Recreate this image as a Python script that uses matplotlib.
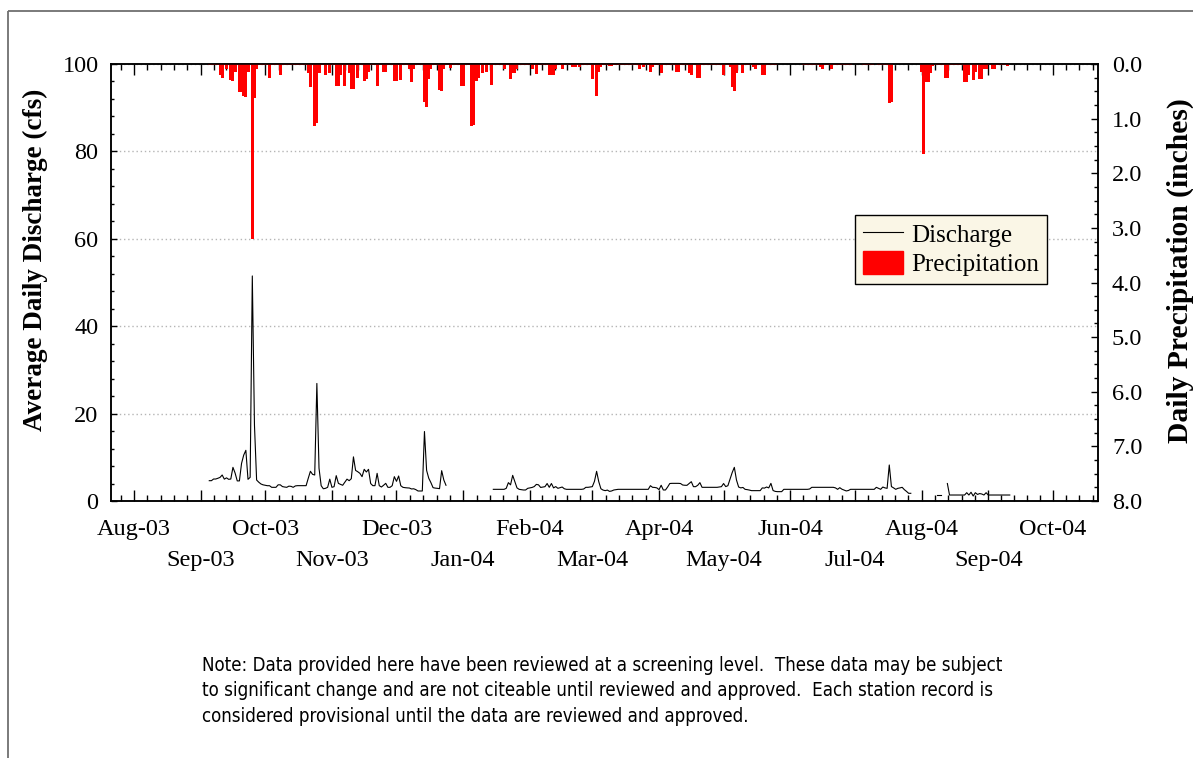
import matplotlib.dates as mdates
import matplotlib.pyplot as plt
import pandas as pd
from matplotlib.lines import Line2D
from matplotlib.patches import Patch
from matplotlib.ticker import FixedLocator, FormatStrFormatter, MultipleLocator
from matplotlib.transforms import offset_copy

plt.rcParams["font.family"] = ["Liberation Serif", "DejaVu Serif"]

# Average daily discharge (cfs), runs of consecutive days
discharge_fall_start = "2003-09-05"
discharge_fall = [
    4.65, 4.65, 5.03, 5.03, 5.2, 5.4, 5.95, 5.0, 5.3, 4.96,
    5.03, 7.7, 6.4, 4.6, 4.6, 8.6, 10.5, 11.6, 4.96, 5.42,
    51.5, 17.4, 4.8, 4.3, 3.9, 3.7, 3.6, 3.5, 3.5, 3.13,
    3.13, 3.13, 3.7, 3.7, 3.3, 3.2, 3.13, 3.4, 3.35, 3.13,
    3.45, 3.51, 3.51, 3.51, 3.51, 3.51, 5.2, 6.8, 6.1, 5.95,
    26.9, 7.5, 3.5, 2.8, 2.9, 3.13, 5.0, 3.13, 3.28, 5.8,
    4.04, 3.8, 3.6, 4.3, 5.0, 4.65, 5.1, 10.1, 7.0, 6.7,
    6.33, 5.57, 7.25, 6.64, 7.25, 4.0, 3.51, 3.51, 6.33, 3.51,
    3.2, 3.6, 4.04, 3.13, 3.13, 3.5, 5.57, 4.5, 5.72, 3.5,
    3.13, 3.05, 3.0, 2.97, 2.75, 2.8, 2.6, 2.29, 2.29, 2.29,
    15.9, 7.0, 5.2, 4.2, 3.05, 2.95, 2.9, 2.82, 6.94, 4.8,
    3.6,
]
discharge_spring_start = "2004-01-15"
discharge_spring = [
    2.67, 2.67, 2.67, 2.67, 2.67, 2.67, 2.9, 4.2, 3.7, 5.87,
    4.4, 3.0, 2.67, 2.6, 2.52, 2.52, 2.9, 3.0, 3.1, 3.3,
    3.8, 3.7, 3.1, 3.2, 3.28, 4.0, 3.13, 4.0, 3.0, 3.3,
    2.9, 3.05, 3.2, 2.8, 2.67, 2.67, 2.67, 2.67, 2.67, 2.67,
    2.67, 2.67, 2.75, 3.13, 3.13, 3.2, 3.28, 4.5, 6.79, 4.42,
    2.8, 2.5, 2.37, 2.5, 2.2, 2.3, 2.52, 2.6, 2.67, 2.67,
    2.67, 2.67, 2.67, 2.67, 2.67, 2.67, 2.67, 2.67, 2.67, 2.67,
    2.67, 2.67, 2.67, 3.5, 3.13, 3.1, 3.0, 2.6, 3.6, 2.52,
    2.52, 3.2, 4.0, 4.04, 4.04, 4.04, 4.04, 4.0, 3.66, 3.6,
    3.59, 4.0, 4.42, 3.28, 3.28, 3.6, 4.2, 3.13, 3.13, 3.13,
    3.13, 3.13, 3.13, 3.13, 3.13, 3.2, 3.28, 4.0, 3.3, 3.5,
    5.0, 6.5, 7.7, 4.8, 3.2, 3.0, 3.1, 2.67, 2.6, 2.5,
    2.37, 2.37, 2.37, 2.37, 2.37, 3.0, 2.95, 3.2, 3.0, 4.04,
    2.4, 2.2, 2.14, 2.14, 2.14, 2.67, 2.67, 2.67, 2.67, 2.67,
    2.67, 2.67, 2.67, 2.67, 2.67, 2.67, 2.67, 2.75, 3.13, 3.13,
    3.13, 3.13, 3.13, 3.13, 3.13, 3.13, 3.13, 3.13, 3.13, 3.0,
    2.67, 3.05, 2.7, 2.5, 2.3, 2.4, 2.67, 2.67, 2.67, 2.67,
    2.67, 2.67, 2.67, 2.67, 2.67, 2.67, 2.67, 2.67, 3.13, 2.9,
    2.67, 3.2, 3.0, 2.9, 8.24, 3.3, 3.0, 2.67, 2.9, 3.0,
    3.13, 2.6, 2.2, 1.76, 1.76,
]
discharge_aug_start = "2004-08-08"
discharge_aug = [1.37, 1.37, 1.37]
discharge_late_start = "2004-08-13"
discharge_late = [
    4.0, 1.37, 1.37, 1.37, 1.37, 1.37, 1.37, 1.37, 1.37, 1.9,
    1.37, 2.0, 1.14, 1.9, 1.5, 1.7, 1.6, 1.37, 1.9, 1.37,
    1.37, 1.37, 1.37, 1.37, 1.37, 1.37, 1.37, 1.37, 1.37, 1.37,
]

# Daily precipitation (inches)
precip_dates = [
    "2003-09-10", "2003-09-11", "2003-09-13", "2003-09-15", "2003-09-16",
    "2003-09-17", "2003-09-19", "2003-09-20", "2003-09-21", "2003-09-22",
    "2003-09-23", "2003-09-25", "2003-09-26", "2003-09-27", "2003-10-03",
    "2003-10-08", "2003-10-21", "2003-10-22", "2003-10-24", "2003-10-25",
    "2003-10-26", "2003-10-29", "2003-10-31", "2003-11-03", "2003-11-04",
    "2003-11-05", "2003-11-07", "2003-11-09", "2003-11-10", "2003-11-11",
    "2003-11-13", "2003-11-16", "2003-11-17", "2003-11-18", "2003-11-22",
    "2003-11-25", "2003-11-26", "2003-11-30", "2003-12-01", "2003-12-03",
    "2003-12-07", "2003-12-08", "2003-12-09", "2003-12-14", "2003-12-15",
    "2003-12-16", "2003-12-17", "2003-12-21", "2003-12-22", "2003-12-23",
    "2003-12-26", "2003-12-31", "2004-01-01", "2004-01-05", "2004-01-06",
    "2004-01-07", "2004-01-08", "2004-01-10", "2004-01-12", "2004-01-14",
    "2004-01-20", "2004-01-23", "2004-01-24", "2004-01-25", "2004-01-26",
    "2004-02-02", "2004-02-04", "2004-02-10", "2004-02-11", "2004-02-12",
    "2004-02-13", "2004-02-16", "2004-02-21", "2004-02-22", "2004-02-24",
    "2004-03-01", "2004-03-03", "2004-03-04", "2004-03-05", "2004-03-09",
    "2004-03-10", "2004-03-23", "2004-03-25", "2004-03-28", "2004-03-29",
    "2004-04-02", "2004-04-09", "2004-04-10", "2004-04-15", "2004-04-16",
    "2004-04-19", "2004-04-20", "2004-05-01", "2004-05-04", "2004-05-05",
    "2004-05-06", "2004-05-07", "2004-05-10", "2004-05-15", "2004-05-16",
    "2004-05-19", "2004-05-20", "2004-06-15", "2004-06-16", "2004-06-20",
    "2004-07-17", "2004-07-18", "2004-08-01", "2004-08-02", "2004-08-03",
    "2004-08-04", "2004-08-05", "2004-08-06", "2004-08-12", "2004-08-13",
    "2004-08-21", "2004-08-22", "2004-08-23", "2004-08-25", "2004-08-26",
    "2004-08-28", "2004-08-29", "2004-08-30", "2004-08-31", "2004-09-03",
    "2004-09-04", "2004-09-10",
]
precip_inches = [
    0.21, 0.25, 0.10, 0.30, 0.32,
    0.14, 0.52, 0.52, 0.58, 0.60,
    0.14, 3.20, 0.63, 0.10, 0.25,
    0.21, 0.17, 0.43, 1.13, 1.08,
    0.17, 0.21, 0.17, 0.41, 0.41,
    0.21, 0.41, 0.17, 0.46, 0.46,
    0.25, 0.32, 0.28, 0.14, 0.41,
    0.14, 0.14, 0.32, 0.32, 0.30,
    0.10, 0.33, 0.10, 0.70, 0.78,
    0.27, 0.10, 0.48, 0.50, 0.10,
    0.08, 0.40, 0.40, 1.13, 1.12,
    0.32, 0.25, 0.17, 0.14, 0.38,
    0.10, 0.27, 0.17, 0.17, 0.10,
    0.10, 0.18, 0.21, 0.21, 0.21,
    0.10, 0.10, 0.06, 0.06, 0.06,
    0.27, 0.58, 0.14, 0.06, 0.03,
    0.03, 0.10, 0.06, 0.14, 0.06,
    0.17, 0.14, 0.14, 0.17, 0.21,
    0.26, 0.26, 0.21, 0.06, 0.43,
    0.50, 0.17, 0.17, 0.06, 0.10,
    0.21, 0.21, 0.06, 0.10, 0.10,
    0.72, 0.70, 0.14, 1.64, 0.33,
    0.33, 0.17, 0.04, 0.26, 0.26,
    0.33, 0.33, 0.21, 0.30, 0.14,
    0.27, 0.27, 0.10, 0.10, 0.10,
    0.10, 0.03,
]

# Stretches of record with only trace amounts
trace_periods = [
    ("2003-09-05", "2004-05-25"),
    ("2004-06-07", "2004-06-29"),
    ("2004-07-05", "2004-07-09"),
    ("2004-07-12", "2004-07-16"),
    ("2004-08-08", "2004-09-09"),
]
trace_inches = 0.02

note = (
    "Note: Data provided here have been reviewed at a screening level.  These data may be subject\n"
    "to significant change and are not citeable until reviewed and approved.  Each station record is\n"
    "considered provisional until the data are reviewed and approved."
)


def _run(start, values):
    return pd.Series(values, index=pd.date_range(start, periods=len(values), freq="D"))


def _daily_precip():
    trace = pd.concat(
        [pd.Series(trace_inches, index=pd.date_range(a, b, freq="D")) for a, b in trace_periods]
    )
    rain = pd.Series(precip_inches, index=pd.to_datetime(precip_dates))
    trace = trace[~trace.index.isin(rain.index)]
    return pd.concat([trace, rain]).sort_index()


def _minor_month_ticks(first, last):
    ticks = []
    for start in pd.date_range(first, last, freq="MS"):
        end = start + pd.offsets.MonthBegin(1)
        step = (end - start) / 5
        ticks += [mdates.date2num(start + i * step) for i in range(1, 5)]
    return ticks


W, H = 1193, 758
LABEL_PT = 17.5
fig = plt.figure(figsize=(W / 100, H / 100), dpi=100)
ax = fig.add_axes([111 / W, 1 - 501 / H, 987 / W, 437 / H])
ax2 = ax.twinx()

for start, values in [
    (discharge_fall_start, discharge_fall),
    (discharge_spring_start, discharge_spring),
    (discharge_aug_start, discharge_aug),
    (discharge_late_start, discharge_late),
]:
    q = _run(start, values)
    ax.plot(q.index, q.values, color="black", lw=0.8)

precip = _daily_precip()
ax2.bar(precip.index, precip.values, width=1.4, color="red", edgecolor="none")

ax.set_xlim(pd.Timestamp("2003-07-21 08:00"), pd.Timestamp("2004-10-22"))
ax.set_ylim(0, 100)
ax2.set_ylim(8, 0)

# month labels alternate between two rows under the axis
months = pd.date_range("2003-08-01", "2004-10-01", freq="MS")
ax.xaxis.set_major_locator(FixedLocator(mdates.date2num(months)))
ax.set_xticklabels([f"{m:%b-%y}" if i % 2 == 0 else "" for i, m in enumerate(months)])
second_row = offset_copy(ax.get_xaxis_transform(), fig=fig, y=-35, units="points")
for i, m in enumerate(months):
    if i % 2 == 1:
        ax.text(mdates.date2num(m), 0, f"{m:%b-%y}", transform=second_row,
                ha="center", va="top", fontsize=LABEL_PT)
ax.xaxis.set_minor_locator(FixedLocator(_minor_month_ticks("2003-07-01", "2004-10-01")))

ax.yaxis.set_major_locator(MultipleLocator(20))
ax.yaxis.set_minor_locator(MultipleLocator(4))
ax2.yaxis.set_major_locator(MultipleLocator(1))
ax2.yaxis.set_minor_locator(MultipleLocator(0.25))
ax2.yaxis.set_major_formatter(FormatStrFormatter("%.1f"))

ax.tick_params(axis="x", which="major", direction="in", length=8, width=1, top=True,
               labelsize=LABEL_PT, pad=13)
ax.tick_params(axis="x", which="minor", direction="in", length=4, width=1, top=True)
ax.tick_params(axis="y", which="major", direction="in", length=4, width=1, labelsize=LABEL_PT, pad=9)
ax.tick_params(axis="y", which="minor", direction="in", length=2, width=1)
ax2.tick_params(axis="y", which="major", direction="in", length=5, width=1, labelsize=LABEL_PT, pad=10)
ax2.tick_params(axis="y", which="minor", direction="in", length=3, width=1)
for a in (ax, ax2):
    for s in a.spines.values():
        s.set_linewidth(1.1)

ax.yaxis.grid(True, which="major", linestyle=(0, (1, 2)), color="#b5b5b5", lw=1)
ax.set_axisbelow(True)

fig.text(35 / W, 1 - 260 / H, "Average Daily Discharge (cfs)", rotation=90,
         ha="center", va="center", fontsize=19.5, fontweight="bold")
fig.text(1180 / W, 1 - 271 / H, "Daily Precipitation (inches)", rotation=90,
         ha="center", va="center", fontsize=21.3, fontweight="bold")

handles = [Line2D([], [], color="black", lw=0.8), Patch(facecolor="red", edgecolor="red")]
leg = ax2.legend(handles, ["Discharge", "Precipitation"], loc="upper left",
                 bbox_to_anchor=(0.754, 0.655), fontsize=18, frameon=True, fancybox=False,
                 handlelength=1.6, handleheight=1.05, handletextpad=0.35, labelspacing=0.15,
                 borderpad=0.3, borderaxespad=0)
leg.get_frame().set_facecolor("#faf6e6")
leg.get_frame().set_edgecolor("black")
leg.get_frame().set_linewidth(1.0)
leg.get_frame().set_alpha(1)

fig.text(202 / W, 1 - 656 / H, note, ha="left", va="top", fontsize=13.4,
         family=["DejaVu Sans"], fontstretch="condensed", linespacing=1.43)

frame = dict(color="#707070", lw=1.3, solid_capstyle="butt", transform=fig.transFigure)
fig.add_artist(Line2D([8 / W, 8 / W], [0, 1 - 10.5 / H], **frame))
fig.add_artist(Line2D([8 / W, 1], [1 - 10.5 / H, 1 - 10.5 / H], **frame))

fig.savefig("out.png", dpi=100)
